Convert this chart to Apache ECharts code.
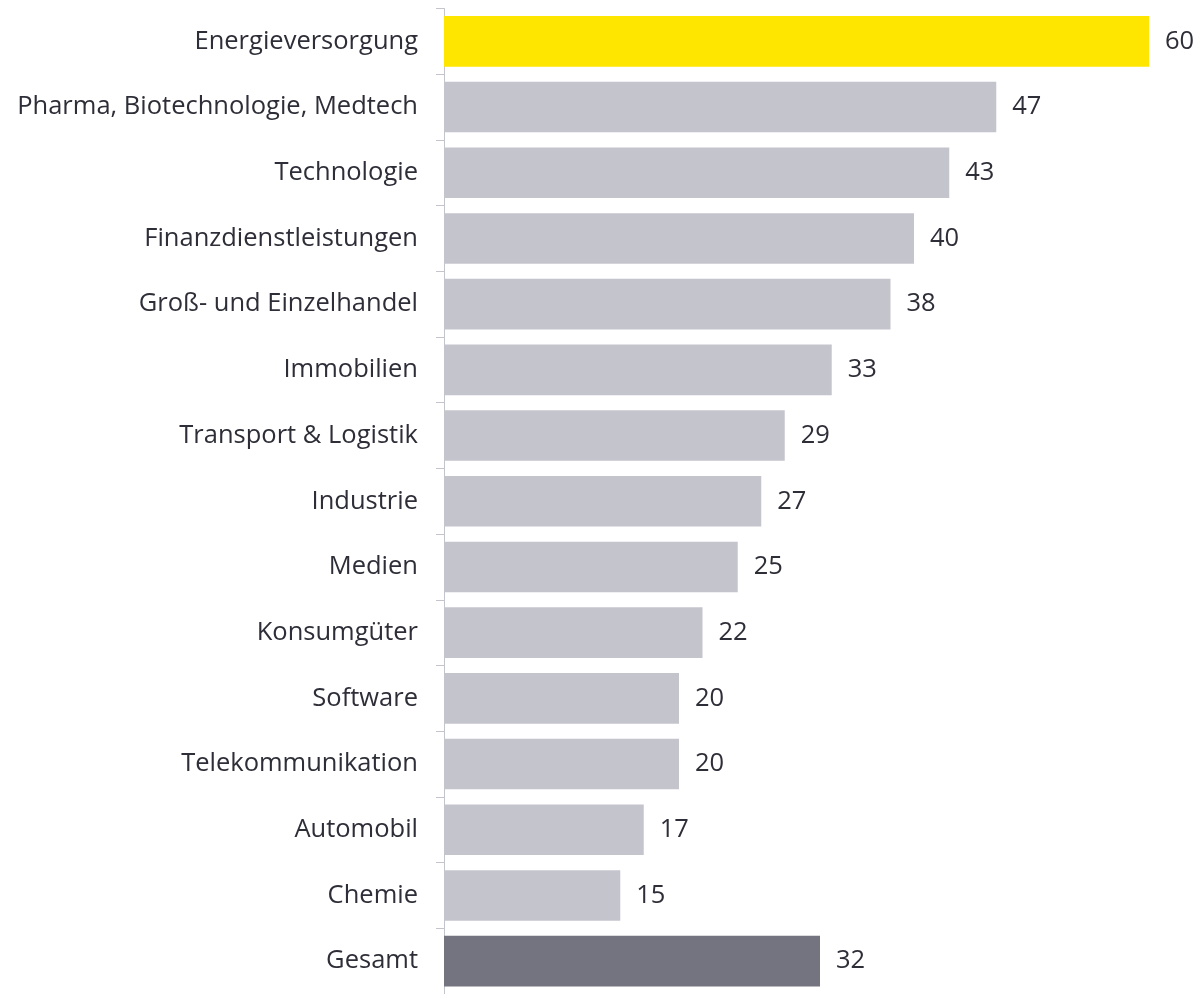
<!DOCTYPE html>
<html>
<head>
<meta charset="utf-8">
<script src="https://cdn.jsdelivr.net/npm/echarts@6/dist/echarts.min.js"></script>
<style>
  html, body { margin: 0; padding: 0; background: #fff; }
  #chart { width: 1200px; height: 994px; }
</style>
</head>
<body>
<div id="chart"></div>
<script>
// Sectors, top to bottom
const categories = [
  'Energieversorgung',
  'Pharma, Biotechnologie, Medtech',
  'Technologie',
  'Finanzdienstleistungen',
  'Groß- und Einzelhandel',
  'Immobilien',
  'Transport & Logistik',
  'Industrie',
  'Medien',
  'Konsumgüter',
  'Software',
  'Telekommunikation',
  'Automobil',
  'Chemie',
  'Gesamt'
];
const values = [60, 47, 43, 40, 38, 33, 29, 27, 25, 22, 20, 20, 17, 15, 32];

const COLOR_TOP = '#FFE600';
const COLOR_BAR = '#C4C4CD';
const COLOR_TOTAL = '#747480';
const TEXT = '#2E2E38';
const FONT = 'Open Sans';

const barData = values.map((v, i) => ({
  value: v,
  itemStyle: {
    color: i === 0 ? COLOR_TOP : (i === values.length - 1 ? COLOR_TOTAL : COLOR_BAR)
  }
}));

const chart = echarts.init(document.getElementById('chart'), null, { renderer: 'canvas' });
chart.setOption({
  animation: false,
  grid: { left: 444, right: 51, top: 8.5, bottom: -5.5, containLabel: false },
  xAxis: {
    type: 'value',
    min: 0,
    max: 60,
    show: false
  },
  yAxis: {
    type: 'category',
    inverse: true,
    data: categories,
    axisLine: { show: true, lineStyle: { color: '#C4C4CD', width: 1 } },
    axisTick: { show: true, length: 8, lineStyle: { color: '#C4C4CD', width: 1 } },
    axisLabel: { color: TEXT, fontFamily: FONT, fontSize: 25.5, margin: 26 }
  },
  series: [{
    type: 'bar',
    data: barData,
    barWidth: '77%',
    label: {
      show: true,
      position: 'right',
      distance: 16,
      color: TEXT,
      fontFamily: FONT,
      fontSize: 25.5
    }
  }]
});
</script>
</body>
</html>
